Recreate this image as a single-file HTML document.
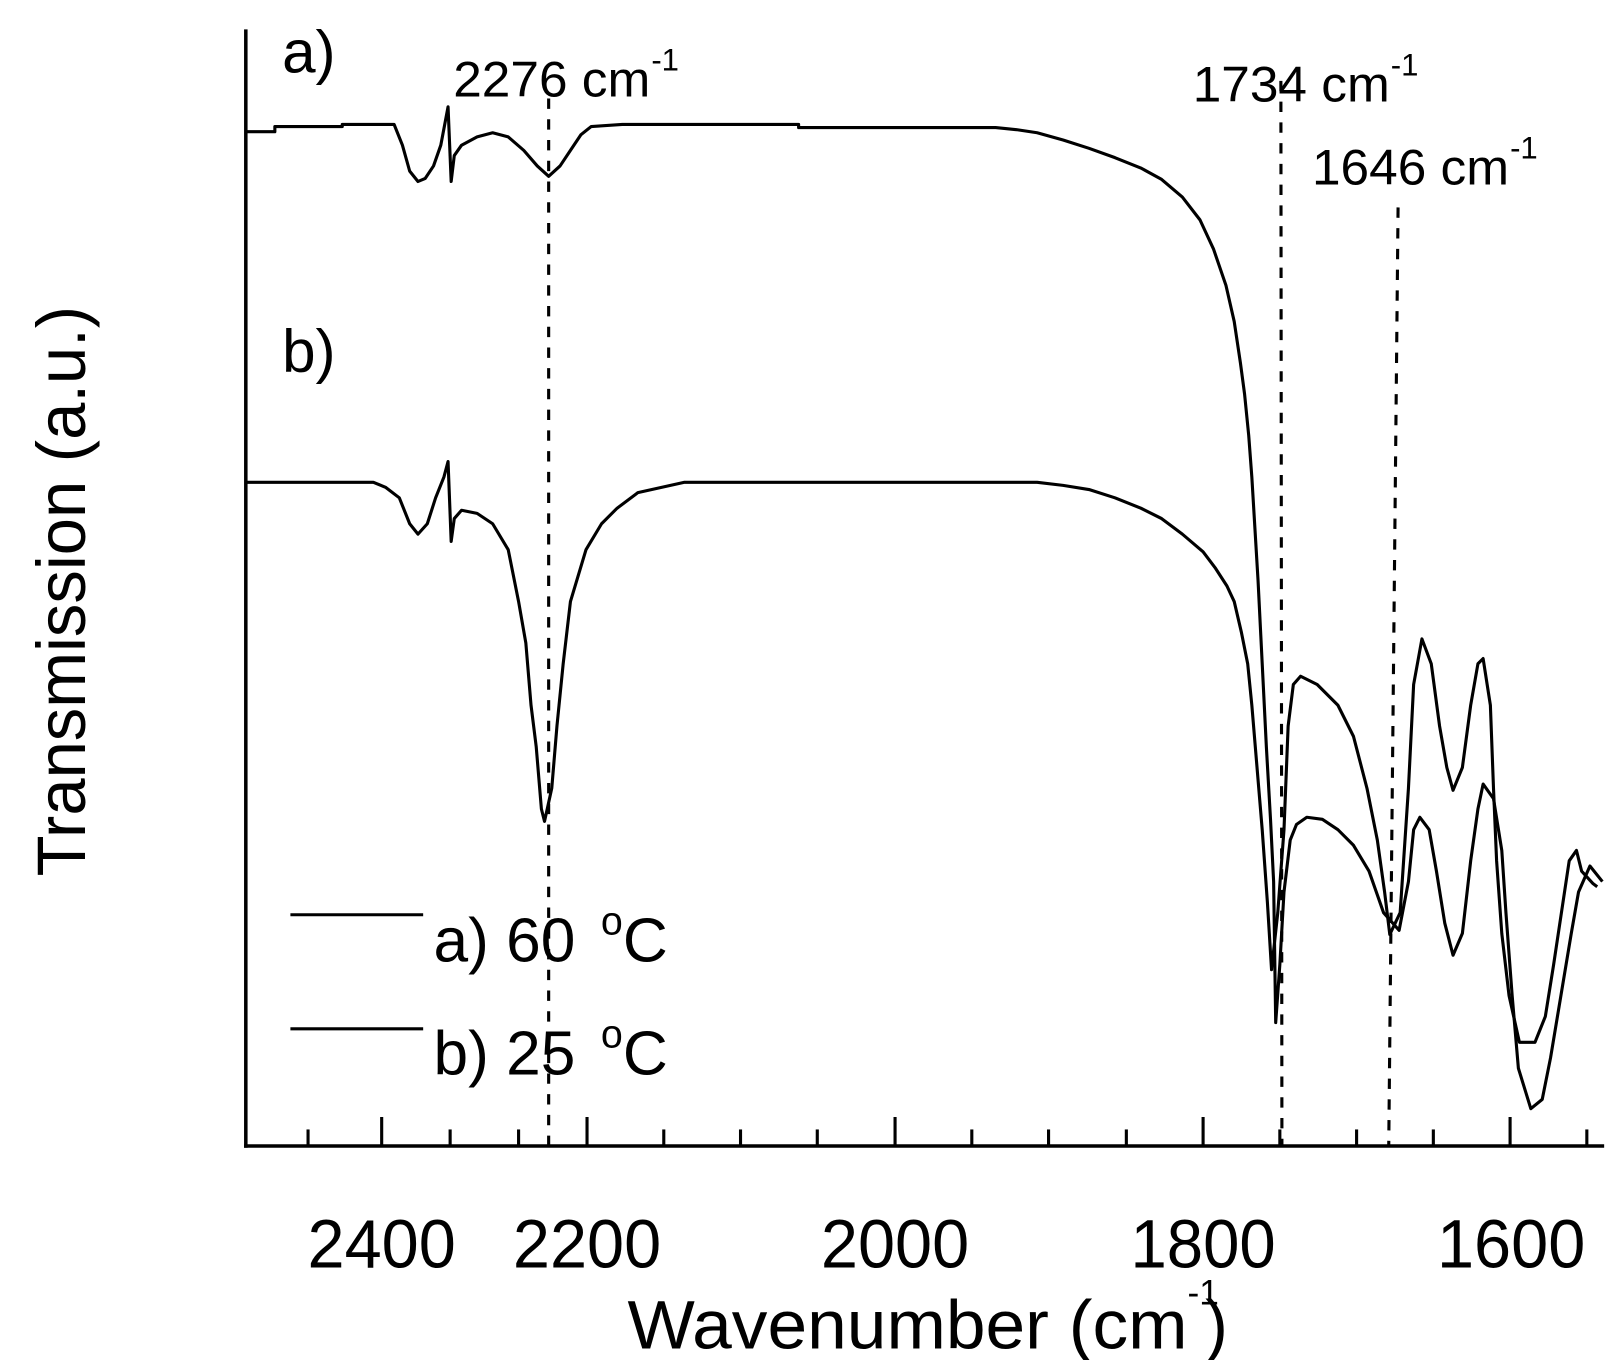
<!DOCTYPE html>
<html><head><meta charset="utf-8"><style>
html,body{margin:0;padding:0;background:#fff;}
svg{display:block;}
text{font-family:"Liberation Sans",Arial,sans-serif;fill:#000;}
</style></head><body>
<svg width="1619" height="1360" viewBox="0 0 1561 1311.3" xmlns="http://www.w3.org/2000/svg">
<g stroke="#000" fill="none" stroke-width="3.4" stroke-linecap="square">
<line x1="237" y1="30" x2="237" y2="1105"/>
<line x1="237" y1="1105" x2="1545" y2="1105"/>
</g>
<g stroke="#000" stroke-width="3">
<line x1="368" y1="1105" x2="368" y2="1077"/>
<line x1="566" y1="1105" x2="566" y2="1077"/>
<line x1="863" y1="1105" x2="863" y2="1077"/>
<line x1="1160" y1="1105" x2="1160" y2="1077"/>
<line x1="1456" y1="1105" x2="1456" y2="1077"/>
<line x1="297" y1="1105" x2="297" y2="1089"/>
<line x1="434" y1="1105" x2="434" y2="1089"/>
<line x1="500" y1="1105" x2="500" y2="1089"/>
<line x1="640" y1="1105" x2="640" y2="1089"/>
<line x1="714" y1="1105" x2="714" y2="1089"/>
<line x1="788" y1="1105" x2="788" y2="1089"/>
<line x1="937" y1="1105" x2="937" y2="1089"/>
<line x1="1011" y1="1105" x2="1011" y2="1089"/>
<line x1="1086" y1="1105" x2="1086" y2="1089"/>
<line x1="1234" y1="1105" x2="1234" y2="1089"/>
<line x1="1308" y1="1105" x2="1308" y2="1089"/>
<line x1="1382" y1="1105" x2="1382" y2="1089"/>
<line x1="1530" y1="1105" x2="1530" y2="1089"/>
</g>
<g stroke="#000" stroke-width="3" stroke-dasharray="10,10" fill="none">
<line x1="529" y1="95" x2="529" y2="1105"/>
<line x1="1235" y1="78" x2="1236" y2="1105"/>
<line x1="1348" y1="200" x2="1339" y2="1105"/>
</g>
<g stroke="#000" stroke-width="3" fill="none" stroke-linejoin="round">
<polyline points="237,127 265,127 265,122 330,122 330,120 380,120 388,140 395,165 403,175 410,172 418,160 425,140 432,103 435,175 438,150 445,140 460,132 475,128 490,132 505,145 518,160 529,170 540,160 550,145 560,130 570,122 600,120 770,120 770,123 960,123 980,125 1000,128 1025,135 1050,143 1075,152 1100,162 1120,173 1140,190 1157,212 1170,240 1182,275 1190,310 1196,350 1200,380 1204,420 1207,460 1210,510 1213,560 1217,640 1221,720 1225,790 1228,850 1230,986 1234,930 1238,860 1244,810 1250,795 1260,788 1275,790 1290,800 1305,815 1320,840 1334,880 1349,897 1358,850 1363,800 1369,788 1378,800 1385,840 1393,890 1401,921 1410,900 1418,830 1425,780 1430,756 1440,770 1448,820 1452,880 1458,960 1464,1030 1476,1069 1487,1060 1495,1020 1505,960 1515,900 1522,860 1533,835 1545,850"/>
<polyline points="237,465 360,465 372,470 385,480 395,505 403,515 412,505 420,480 428,460 432,445 435,522 438,500 445,492 460,495 475,505 490,530 500,580 507,620 512,680 517,720 522,780 525,792 532,760 537,700 543,640 550,580 565,530 580,505 595,490 615,475 660,465 1000,465 1025,468 1050,472 1075,480 1100,490 1120,500 1140,515 1160,532 1172,548 1183,565 1190,580 1197,610 1203,640 1207,680 1212,740 1217,800 1222,870 1226,935 1232,880 1238,800 1242,700 1247,660 1254,652 1270,660 1290,680 1305,710 1318,760 1328,810 1335,860 1340,901 1350,880 1358,760 1363,660 1371,616 1380,640 1388,700 1395,740 1401,762 1410,740 1418,680 1425,640 1430,635 1437,680 1440,760 1443,830 1448,900 1455,960 1465,1005 1480,1005 1490,980 1498,930 1507,870 1513,830 1520,820 1525,840 1536,852 1540,855"/>
</g>
<g stroke="#000" stroke-width="3">
<line x1="280" y1="882" x2="408" y2="882"/>
<line x1="280" y1="992" x2="408" y2="992"/>
</g>
<text x="418" y="927" font-size="60">a) 60 <tspan dx="8" dy="-26" font-size="38">o</tspan><tspan dy="26">C</tspan></text>
<text x="418" y="1036" font-size="60">b) 25 <tspan dx="8" dy="-26" font-size="38">o</tspan><tspan dy="26">C</tspan></text>
<text x="272" y="70" font-size="58">a)</text>
<text x="272" y="358" font-size="58">b)</text>
<text x="437" y="93" font-size="48" textLength="190" lengthAdjust="spacingAndGlyphs">2276 cm</text>
<text x="628" y="68" font-size="30">-1</text>
<text x="1150" y="98" font-size="48" textLength="190" lengthAdjust="spacingAndGlyphs">1734 cm</text>
<text x="1341" y="73" font-size="30">-1</text>
<text x="1265" y="178" font-size="48" textLength="190" lengthAdjust="spacingAndGlyphs">1646 cm</text>
<text x="1456" y="153" font-size="30">-1</text>
<g font-size="66" text-anchor="middle">
<text x="368" y="1222" textLength="143" lengthAdjust="spacingAndGlyphs">2400</text>
<text x="566" y="1222" textLength="143" lengthAdjust="spacingAndGlyphs">2200</text>
<text x="863" y="1222" textLength="143" lengthAdjust="spacingAndGlyphs">2000</text>
<text x="1160" y="1222" textLength="140" lengthAdjust="spacingAndGlyphs">1800</text>
<text x="1457" y="1222" textLength="143" lengthAdjust="spacingAndGlyphs">1600</text>
</g>
<text x="605" y="1300" font-size="66" textLength="540" lengthAdjust="spacingAndGlyphs">Wavenumber (cm</text>
<text x="1145" y="1258" font-size="34">-1</text>
<text x="1162" y="1300" font-size="66">)</text>
<text transform="translate(82,570) rotate(-90)" font-size="66" text-anchor="middle" textLength="550" lengthAdjust="spacingAndGlyphs">Transmission (a.u.)</text>
</svg>
</body></html>
